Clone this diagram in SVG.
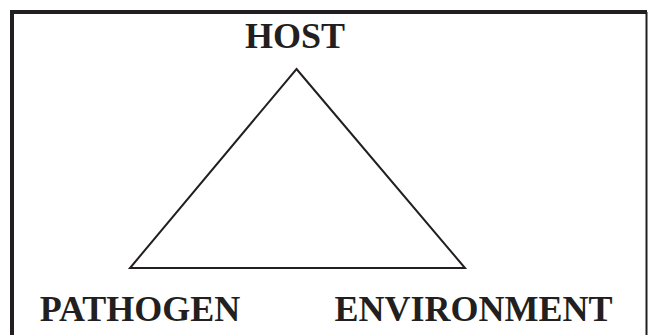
<svg xmlns="http://www.w3.org/2000/svg" width="650" height="335" viewBox="0 0 650 335">
<style>
.lbl{font-family:"Liberation Serif","Times New Roman",serif;font-weight:bold;font-size:36px;fill:#231f20;text-anchor:middle}
.frame{fill:none;stroke:#231f20}
.edge{fill:none;stroke:#231f20;stroke-width:2;stroke-linejoin:miter}
</style>
<rect width="650" height="335" fill="#ffffff"/>
<g id="frame">
<path class="frame" stroke-width="4" d="M12,340 V12 H647"/>
<path class="frame" stroke-width="2" d="M646.5,12 V340"/>
</g>
<g id="connectors">
<polygon class="edge" points="296.5,69 465,268 130,268"/>
</g>
<g id="host"><text class="lbl" x="295" y="48">HOST</text></g>
<g id="pathogen"><text class="lbl" x="140" y="321">PATHOGEN</text></g>
<g id="environment"><text class="lbl" x="473.5" y="321">ENVIRONMENT</text></g>
</svg>
